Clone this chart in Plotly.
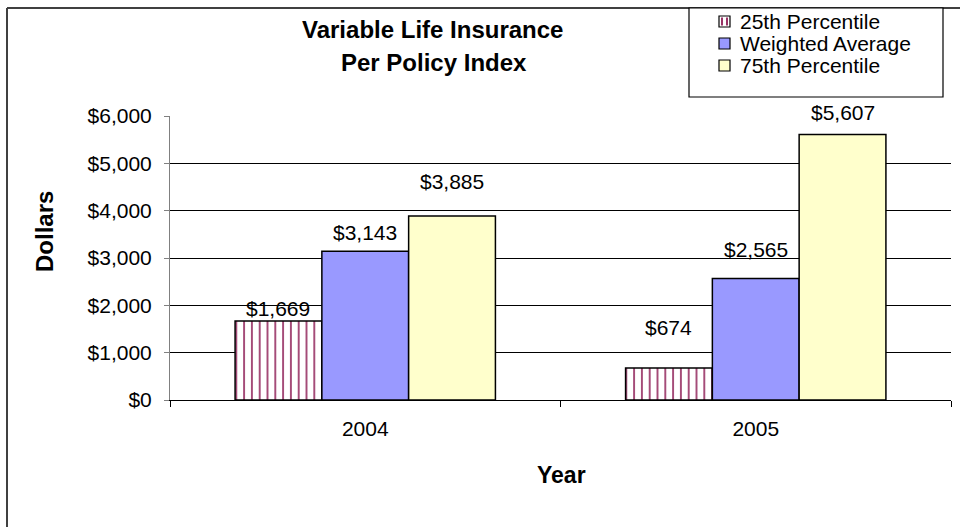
import plotly.graph_objects as go

# ---- data ----
YEARS = ["2004", "2005"]
SERIES_NAMES = ["25th Percentile", "Weighted Average", "75th Percentile"]
P25 = [1669, 674]
WAVG = [3143, 2565]
P75 = [3885, 5607]
Y_TICKS = [0, 1000, 2000, 3000, 4000, 5000, 6000]
GRID_VALUES = [1000, 2000, 3000, 4000, 5000]
TITLE_LINES = ["Variable Life Insurance", "Per Policy Index"]

# ---- styling / layout (pixels) ----
W, H = 960, 527
L, R, T, B = 170, 9, 116, 127
PW, PH = W - L - R, H - T - B
FONT = "Liberation Sans, Arial, sans-serif"
BAR_GAP = 1 / 3
COLORS = ["#993366", "#9999FF", "#FFFFCC"]
LABEL_SHIFT = [[3, 31], [9, 20], [25, 13]]
LABEL_BASE = -4


def px_x(x):
    return (x - L) / PW


def px_y(y):
    return (H - B - y) / PH


series = [P25, WAVG, P75]
fig = go.Figure()
fig.add_trace(go.Bar(
    name=SERIES_NAMES[0], x=YEARS, y=P25,
    marker=dict(color="white",
                pattern=dict(shape="|", fgcolor=COLORS[0], bgcolor="white",
                             size=7.8, solidity=0.22, fillmode="replace"),
                line=dict(color="black", width=1.5)),
))
fig.add_trace(go.Bar(
    name=SERIES_NAMES[1], x=YEARS, y=WAVG,
    marker=dict(color=COLORS[1], line=dict(color="black", width=1.5)),
))
fig.add_trace(go.Bar(
    name=SERIES_NAMES[2], x=YEARS, y=P75,
    marker=dict(color=COLORS[2], line=dict(color="black", width=1.5)),
))

# data labels
bw = (1 - BAR_GAP) / 3
annotations = []
for j, vals in enumerate(series):
    for i, v in enumerate(vals):
        annotations.append(dict(
            x=i + (j - 1) * bw, y=v, xref="x", yref="y",
            text=f"${v:,}", showarrow=False, yanchor="bottom",
            yshift=LABEL_SHIFT[j][i] + LABEL_BASE,
            font=dict(family=FONT, size=21, color="black"),
        ))


def text_ann(x, y, text, size, **kw):
    d = dict(x=px_x(x), y=px_y(y), xref="paper", yref="paper", text=text,
             showarrow=False, xanchor="center", yanchor="middle",
             font=dict(family=FONT, size=size, color="black"))
    d.update(kw)
    return d


annotations.append(text_ann(432, 30, f"<b>{TITLE_LINES[0]}</b>", 24))
annotations.append(text_ann(434, 62, f"<b>{TITLE_LINES[1]}</b>", 24))
annotations.append(text_ann(44, 232, "<b>Dollars</b>", 24, textangle=-90))
annotations.append(text_ann(561, 475, "<b>Year</b>", 23))

shapes = [
    dict(type="line", xref="paper", yref="paper",
         x0=px_x(7), x1=px_x(W + 5), y0=px_y(8), y1=px_y(8),
         line=dict(color="#404040", width=2)),
    dict(type="line", xref="paper", yref="paper",
         x0=px_x(7), x1=px_x(7), y0=px_y(8), y1=px_y(H + 5),
         line=dict(color="#404040", width=2)),
]

# ---- hand-built legend (box, swatches, labels) ----
LEG_BOX = (689, 8, 943, 97)
LEG_ROWS = [21.5, 43.5, 65.5]
SW_X0, SW_SIZE, TXT_X = 719, 11, 738
shapes.append(dict(type="rect", xref="paper", yref="paper",
                   x0=px_x(LEG_BOX[0]), x1=px_x(LEG_BOX[2]),
                   y0=px_y(LEG_BOX[1]), y1=px_y(LEG_BOX[3]),
                   fillcolor="white", line=dict(color="black", width=1.2),
                   layer="above"))
for k, (name, cy) in enumerate(zip(SERIES_NAMES, LEG_ROWS)):
    y0, y1 = cy - SW_SIZE / 2, cy + SW_SIZE / 2
    fill = "white" if k == 0 else COLORS[k]
    shapes.append(dict(type="rect", xref="paper", yref="paper",
                       x0=px_x(SW_X0), x1=px_x(SW_X0 + SW_SIZE),
                       y0=px_y(y0), y1=px_y(y1), fillcolor=fill,
                       line=dict(color="black", width=1.2), layer="above"))
    if k == 0:
        for sx in (SW_X0 + 3, SW_X0 + SW_SIZE - 3):
            shapes.append(dict(type="line", xref="paper", yref="paper",
                               x0=px_x(sx), x1=px_x(sx),
                               y0=px_y(y0 + 1.5), y1=px_y(y1 - 1.5),
                               line=dict(color=COLORS[0], width=2),
                               layer="above"))
    annotations.append(dict(x=px_x(TXT_X), y=px_y(cy), xref="paper",
                            yref="paper", text=name, showarrow=False,
                            xanchor="left", yanchor="middle",
                            font=dict(family=FONT, size=21, color="black")))

fig.update_layout(
    width=W, height=H,
    margin=dict(l=L, r=R, t=T, b=B, pad=0),
    paper_bgcolor="white", plot_bgcolor="white",
    barmode="group", bargap=BAR_GAP, bargroupgap=0,
    font=dict(family=FONT, size=21, color="black"),
    showlegend=False,
    xaxis=dict(type="category", showgrid=False, showline=True,
               linecolor="black", linewidth=1, ticks="outside",
               tickson="boundaries", ticklen=6, tickcolor="black",
               tickfont=dict(family=FONT, size=21, color="black"),
               ticklabelstandoff=10, zeroline=False),
    yaxis=dict(range=[0, 6000], tickmode="array", tickvals=Y_TICKS,
               ticktext=[f"${v:,}" for v in Y_TICKS],
               showgrid=False, showline=True,
               linecolor="#808080", linewidth=1, ticks="outside",
               ticklen=5, tickcolor="#808080", zeroline=False,
               tickfont=dict(family=FONT, size=21, color="black"),
               ticklabelstandoff=8,
               minor=dict(tickvals=GRID_VALUES, showgrid=True,
                          gridcolor="black", gridwidth=1, ticks="")),
    annotations=annotations,
    shapes=shapes,
)

fig.write_html("out.html",
               config={"displayModeBar": False},
               post_script="document.body.style.margin='0';"
                           "document.body.style.padding='0';")
